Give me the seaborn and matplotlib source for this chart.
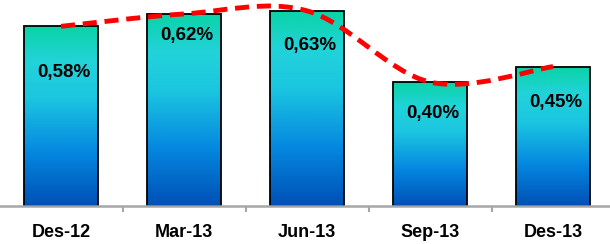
import numpy as np
import pandas as pd
import matplotlib
matplotlib.use("Agg")
import matplotlib.pyplot as plt
import seaborn as sns
from matplotlib.path import Path
from matplotlib.patches import PathPatch
from matplotlib.colors import LinearSegmentedColormap

# ---- data ----
categories = ["Des-12", "Mar-13", "Jun-13", "Sep-13", "Des-13"]
values = [0.58, 0.62, 0.63, 0.40, 0.45]
value_labels = ["0,58%", "0,62%", "0,63%", "0,40%", "0,45%"]

# ---- layout (label vertical positions, in data units) ----
label_y = [0.432, 0.552, 0.519, 0.300, 0.335]

sns.set_theme(style="white")
plt.rcParams['font.family'] = ['Liberation Sans', 'DejaVu Sans']

fig = plt.figure(figsize=(6.1, 2.44), dpi=100)
ax = fig.add_axes([0, 38 / 244, 1, 206 / 244])

df = pd.DataFrame({"cat": categories, "val": values})
sns.barplot(data=df, x="cat", y="val", width=0.6, ax=ax, color="white",
            edgecolor="black", linewidth=1.3, saturation=1, errorbar=None)

cmap = LinearSegmentedColormap.from_list(
    "grad", [(0.0, "#0050B5"), (0.3, "#0588E0"), (0.6, "#1BC6E0"),
             (0.8, "#22D3DA"), (1.0, "#0AD3A6")])
grad = np.linspace(0, 1, 256).reshape(-1, 1)
for p in list(ax.patches):
    x0, y0 = p.get_x(), p.get_y()
    w, h = p.get_width(), p.get_height()
    im = ax.imshow(grad, extent=[x0, x0 + w, y0, y0 + h], origin="lower",
                   aspect="auto", cmap=cmap, zorder=1.5, interpolation="bilinear")
    im.set_clip_path(p)
    p.set_facecolor("none")
    p.set_zorder(2)

# smoothed dashed line (Catmull-Rom as cubic Bezier)
xs = np.arange(len(values), dtype=float)
ys = np.array(values, dtype=float)
pts = np.column_stack([xs, ys])
ext = np.vstack([pts[0], pts, pts[-1]])
verts = [tuple(pts[0])]
codes = [Path.MOVETO]
for i in range(len(pts) - 1):
    p0, p1, p2, p3 = ext[i], ext[i + 1], ext[i + 2], ext[i + 3]
    c1 = p1 + (p2 - p0) / 6.0
    c2 = p2 - (p3 - p1) / 6.0
    verts += [tuple(c1), tuple(c2), tuple(p2)]
    codes += [Path.CURVE4] * 3
line = PathPatch(Path(verts, codes), facecolor="none", edgecolor="#FF0000",
                 linewidth=3.5, linestyle=(0, (2.9, 1.6)), zorder=4,
                 capstyle="butt")
ax.add_patch(line)

for i, (lab, yv) in enumerate(zip(value_labels, label_y)):
    ax.text(i + 0.02, yv, lab, ha="center", va="center", fontsize=13.5,
            fontweight="bold", color="black", zorder=5)

ax.set_xlim(-0.496, 4.463)
ax.set_ylim(0, 0.665)
for s in ["top", "left", "right"]:
    ax.spines[s].set_visible(False)
ax.spines["bottom"].set_color("#A6A6A6")
ax.spines["bottom"].set_linewidth(1.8)
ax.set_yticks([])
ax.set_xlabel("")
ax.set_ylabel("")
ax.set_xticks(range(len(categories)))
ax.set_xticklabels(categories, fontsize=13, fontweight="bold", color="black")
ax.tick_params(axis="x", which="major", length=0, pad=13)
ax.set_xticks([0.5, 1.5, 2.5, 3.5], minor=True)
ax.tick_params(axis="x", which="minor", direction="out", length=4.5,
               width=1.5, color="#A6A6A6", bottom=True)

fig.savefig("out.png", dpi=100)
